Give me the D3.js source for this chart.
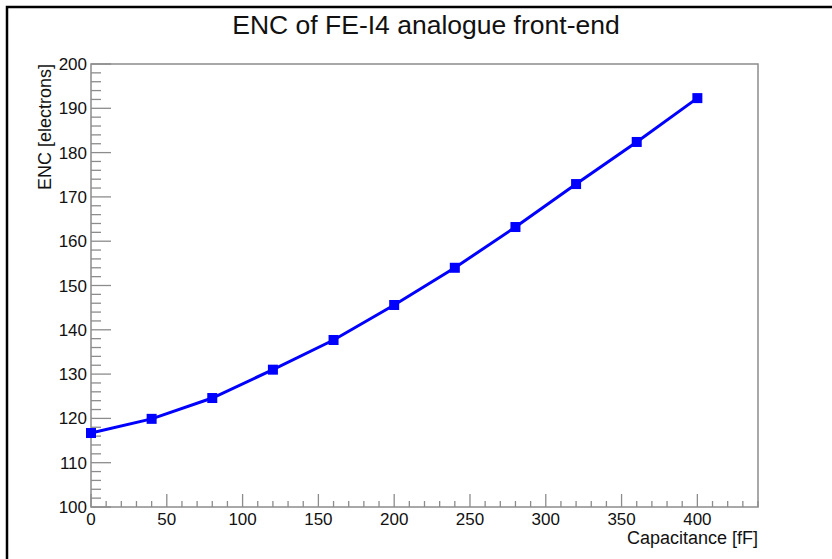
<!DOCTYPE html>
<html>
<head>
<meta charset="utf-8">
<script src="https://cdn.jsdelivr.net/npm/d3@7"></script>
<style>
  body { margin: 0; background: #fff; }
  svg { display: block; font-family: "Liberation Sans", Arial, sans-serif; }
</style>
</head>
<body>
<svg id="chart" width="832" height="559"></svg>
<script>
// capacitance points (fF) and measured ENC (electrons)
const capacitance = [0, 40, 80, 120, 160, 200, 240, 280, 320, 360, 400];
const enc = [116.7, 119.9, 124.6, 131.0, 137.7, 145.6, 154.0, 163.2, 172.9, 182.4, 192.3];
const xTicks = [0, 50, 100, 150, 200, 250, 300, 350, 400];
const yTicks = [100, 110, 120, 130, 140, 150, 160, 170, 180, 190, 200];

const svg = d3.select('#chart');
const padL = 91, padR = 758, padT = 64, padB = 507;
const axisColor = '#8c8c8c';

// figure border (top + left only, like the original screenshot)
svg.append('path')
    .attr('d', 'M7,559 L7,7 L832,7')
    .attr('fill', 'none')
    .attr('stroke', '#000')
    .attr('stroke-width', 2.5);

const x = d3.scaleLinear().domain([0, 440]).range([padL, padR]);
const y = d3.scaleLinear().domain([100, 200]).range([padB, padT]);

// frame
svg.append('rect')
    .attr('x', padL).attr('y', padT)
    .attr('width', padR - padL).attr('height', padB - padT)
    .attr('fill', 'none')
    .attr('stroke', axisColor)
    .attr('stroke-width', 1.5);

// x ticks (major every 50, minor every 10), drawn upward into the frame
const xMinor = d3.range(0, 441, 10).filter(v => v % 50 !== 0);
const gx = svg.append('g');
gx.selectAll('line.minor').data(xMinor).join('line')
    .attr('class', 'minor')
    .attr('x1', d => x(d)).attr('x2', d => x(d))
    .attr('y1', padB).attr('y2', padB - 6)
    .attr('stroke', axisColor).attr('stroke-width', 1.3);
gx.selectAll('line.major').data(xTicks).join('line')
    .attr('class', 'major')
    .attr('x1', d => x(d)).attr('x2', d => x(d))
    .attr('y1', padB).attr('y2', padB - 13)
    .attr('stroke', axisColor).attr('stroke-width', 1.3);
gx.selectAll('text').data(xTicks).join('text')
    .attr('x', d => x(d))
    .attr('y', padB + 18)
    .attr('text-anchor', 'middle')
    .attr('font-size', 17)
    .attr('fill', '#111')
    .text(d => d);

// y ticks (major every 10, minor every 2)
const yMinor = d3.range(100, 201, 2).filter(v => v % 10 !== 0);
const gy = svg.append('g');
gy.selectAll('line.minor').data(yMinor).join('line')
    .attr('class', 'minor')
    .attr('x1', padL).attr('x2', padL + 10)
    .attr('y1', d => y(d)).attr('y2', d => y(d))
    .attr('stroke', axisColor).attr('stroke-width', 1.3);
gy.selectAll('line.major').data(yTicks).join('line')
    .attr('class', 'major')
    .attr('x1', padL).attr('x2', padL + 20)
    .attr('y1', d => y(d)).attr('y2', d => y(d))
    .attr('stroke', axisColor).attr('stroke-width', 1.3);
gy.selectAll('text').data(yTicks).join('text')
    .attr('x', padL - 4)
    .attr('y', d => y(d) + 6)
    .attr('text-anchor', 'end')
    .attr('font-size', 17)
    .attr('fill', '#111')
    .text(d => d);

// data line + square markers
const pts = capacitance.map((c, i) => [c, enc[i]]);
svg.append('path')
    .datum(pts)
    .attr('d', d3.line().x(d => x(d[0])).y(d => y(d[1])))
    .attr('fill', 'none')
    .attr('stroke', '#0000ff')
    .attr('stroke-width', 3);
svg.selectAll('rect.pt').data(pts).join('rect')
    .attr('class', 'pt')
    .attr('x', d => x(d[0]) - 5).attr('y', d => y(d[1]) - 5)
    .attr('width', 10).attr('height', 10)
    .attr('fill', '#0000ff');

// titles
svg.append('text')
    .attr('x', 426).attr('y', 34)
    .attr('text-anchor', 'middle')
    .attr('font-size', 26.5)
    .attr('fill', '#111')
    .text('ENC of FE-I4 analogue front-end');

svg.append('text')
    .attr('x', padR).attr('y', padB + 37)
    .attr('text-anchor', 'end')
    .attr('font-size', 18)
    .attr('fill', '#111')
    .text('Capacitance [fF]');

svg.append('text')
    .attr('transform', `translate(51, ${padT}) rotate(-90)`)
    .attr('text-anchor', 'end')
    .attr('font-size', 18)
    .attr('fill', '#111')
    .text('ENC [electrons]');
</script>
</body>
</html>
